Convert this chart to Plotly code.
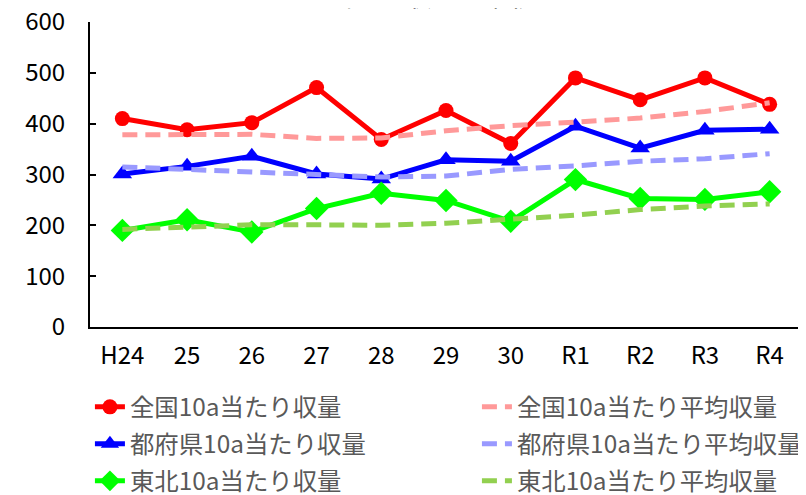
import plotly.graph_objects as go

years = ["H24", "25", "26", "27", "28", "29", "30", "R1", "R2", "R3", "R4"]

zenkoku = [410, 388, 402, 471, 369, 426, 361, 490, 447, 490, 438]
tofuken = [301, 316, 336, 301, 291, 329, 326, 395, 352, 387, 389]
tohoku = [190, 211, 187, 233, 263, 249, 208, 290, 253, 251, 266]

zenkoku_avg = [378, 378, 379, 371, 372, 386, 396, 403, 411, 424, 441]
tofuken_avg = [315, 310, 305, 301, 295, 297, 310, 317, 326, 331, 341]
tohoku_avg = [192, 197, 201, 201, 200, 204, 212, 220, 231, 238, 242]

names_solid = ["全国10a当たり収量", "都府県10a当たり収量", "東北10a当たり収量"]
names_avg = ["全国10a当たり平均収量", "都府県10a当たり平均収量", "東北10a当たり平均収量"]

FONT = "Noto Sans CJK JP"

fig = go.Figure()

solid_specs = [
    (zenkoku, "#FF0000", "circle", 15, "legend"),
    (tofuken, "#0000FF", "triangle-up", 17, "legend2"),
    (tohoku, "#00FF00", "diamond", 18, "legend3"),
]
avg_specs = [
    (zenkoku_avg, "#FF9999", "legend"),
    (tofuken_avg, "#9999FF", "legend2"),
    (tohoku_avg, "#92D050", "legend3"),
]

for (vals, col, sym, sz, lg), nm in zip(solid_specs, names_solid):
    fig.add_trace(go.Scatter(
        x=years, y=vals, name=nm, mode="lines+markers",
        line=dict(color=col, width=5),
        marker=dict(symbol=sym, size=sz, color=col),
        legend=lg, legendrank=1,
    ))

for (vals, col, lg), nm in zip(avg_specs, names_avg):
    fig.add_trace(go.Scatter(
        x=years, y=vals, name=nm, mode="lines",
        line=dict(color=col, width=5, dash="15px,8px"),
        legend=lg, legendrank=2,
    ))

leg_common = dict(
    orientation="h", xanchor="left", yanchor="middle",
    font=dict(family=FONT, size=24.4, color="#595959"),
    bgcolor="rgba(0,0,0,0)", entrywidth=342, entrywidthmode="pixels",
    traceorder="normal",
)
LX = -0.0001
# page body has an 8px margin, so the figure is sized/offset to compensate
fig.update_layout(
    width=798, height=487,
    margin=dict(l=82, r=4, t=14, b=168, autoexpand=False),
    paper_bgcolor="white", plot_bgcolor="white",
    font=dict(family=FONT, size=24, color="black"),
    legend=dict(x=LX, y=(327 - 407) / 305, **leg_common),
    legend2=dict(x=LX, y=(327 - 444) / 305, **leg_common),
    legend3=dict(x=LX, y=(327 - 481) / 305, **leg_common),
    xaxis=dict(
        type="category", range=[-0.5, 10.5],
        showline=True, linecolor="black", linewidth=2,
        ticks="", showgrid=False, zeroline=False,
        tickfont=dict(family=FONT, size=24, color="black"),
        ticklabelstandoff=6, ticklabeloverflow="allow",
    ),
    yaxis=dict(
        range=[0, 600], tickvals=[0, 100, 200, 300, 400, 500, 600],
        showline=True, linecolor="black", linewidth=2,
        ticks="inside", ticklen=6, tickwidth=2, tickcolor="black",
        showgrid=False, zeroline=False,
        tickfont=dict(family=FONT, size=24, color="black"),
        ticklabelstandoff=18, ticklabeloverflow="allow",
    ),
    annotations=[dict(
        text="10a当たり収量の推移", xref="paper", yref="paper",
        x=(410 - 90) / 712, y=(327 + 6) / 305, xanchor="center", yanchor="middle",
        showarrow=False, font=dict(family=FONT, size=26, color="black"),
    )],
)

fig.write_html("out.html")
